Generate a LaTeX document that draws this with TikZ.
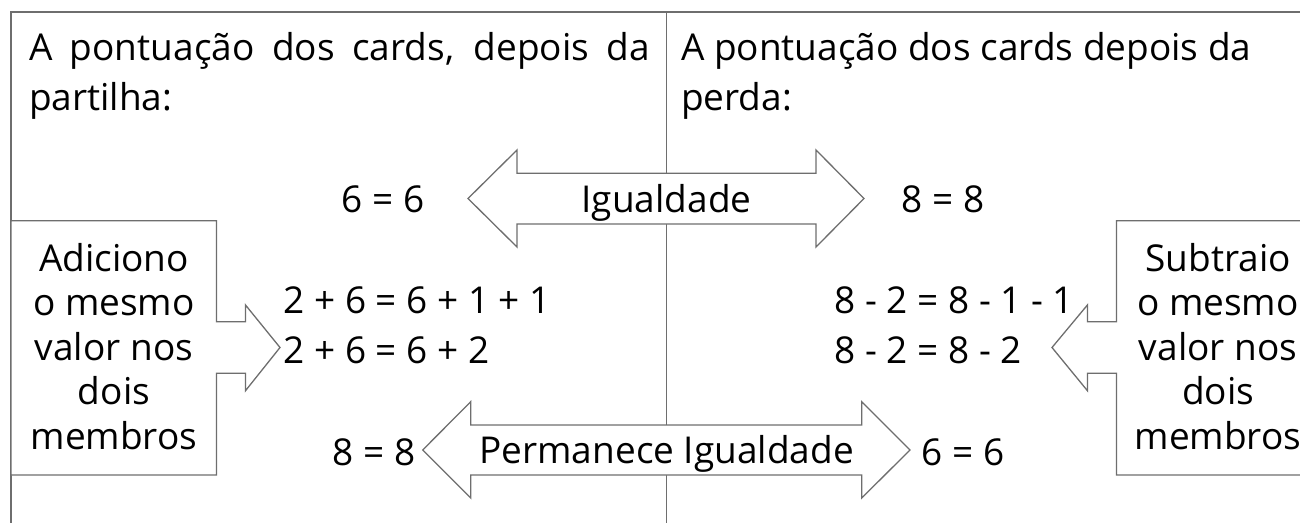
\documentclass[tikz,border=0pt]{standalone}
\usepackage{fontspec}
\setmainfont{Open Sans}
\definecolor{linegray}{RGB}{110,110,110}
\begin{document}
\begin{tikzpicture}[x=1pt,y=-1pt,
  frame/.style={draw=linegray, line width=1.3pt},
  blockshape/.style={draw=linegray, fill=white, line width=1.3pt, line join=miter},
  txt/.style={inner sep=0pt, outer sep=0pt, font=\fontsize{37}{44.4}\selectfont}]
\useasboundingbox (0,0) rectangle (1300,523);
% frame
\coordinate (tl) at (11,12);
\coordinate (tr) at (1300,12);
\coordinate (bl) at (11,523);
\coordinate (mt) at (666.7,12);
\coordinate (mb) at (666.7,523);
\draw[frame] (tr) -- (tl) -- (bl);
\draw[frame] (mt) -- (mb);
% double arrows
\draw[blockshape] (468,198.5) -- (517,150) -- (517,173.3) -- (816,173.3) -- (816,150) -- (864,198.5)
  -- (816,247) -- (816,224) -- (517,224) -- (517,247) -- cycle;
\draw[blockshape] (422.7,450) -- (470.7,401.7) -- (470.7,425) -- (861.7,425) -- (861.7,401.7) -- (910,450)
  -- (861.7,498) -- (861.7,475) -- (470.7,475) -- (470.7,498) -- cycle;
% left box with arrow
\draw[blockshape] (11,220.7) -- (216.5,220.7) -- (216.5,321.7) -- (245.5,321.7) -- (245.5,305) -- (280,347.5)
  -- (245.5,390.7) -- (245.5,373.3) -- (216.5,373.3) -- (216.5,475) -- (11,475) -- cycle;
% right box with arrow
\fill[white] (1300,220.7) -- (1116.4,220.7) -- (1116.4,475) -- (1300,475) -- cycle;
\draw[blockshape] (1300,220.7) -- (1116.4,220.7) -- (1116.4,321.7) -- (1087.4,321.7) -- (1087.4,305) -- (1052,347.5)
  -- (1087.4,390.7) -- (1087.4,373.3) -- (1116.4,373.3) -- (1116.4,475) -- (1300,475);
% titles
\node[txt, anchor=base west] (t1) at (29,60) {\makebox[621pt][s]{A pontuação dos cards, depois da}};
\node[txt, anchor=base west] (t1b) at (29,110) {partilha:};
\node[txt, anchor=base west] (t2) at (681,60) {A pontuação dos cards depois da};
\node[txt, anchor=base west] (t2b) at (681,110) {perda:};
% arrow labels
\node[txt, anchor=base] (ig) at (666.5,212) {Igualdade};
\node[txt, anchor=base] (pi) at (666.7,463.5) {Permanece Igualdade};
% equations
\node[txt, anchor=base west] (e6) at (341.5,212.5) {6 = 6};
\node[txt, anchor=base west] (e8) at (901.7,212.5) {8 = 8};
\node[txt, anchor=base west] (a1) at (283.5,313.3) {2 + 6 = 6 + 1 + 1};
\node[txt, anchor=base west] (a2) at (283.5,363.3) {2 + 6 = 6 + 2};
\node[txt, anchor=base west] (s1) at (834.5,313.3) {8 - 2 = 8 - 1 - 1};
\node[txt, anchor=base west] (s2) at (834.5,363.3) {8 - 2 = 8 - 2};
\node[txt, anchor=base west] (f8) at (332.6,465) {8 = 8};
\node[txt, anchor=base west] (f6) at (921.6,465) {6 = 6};
% box texts (base anchor = last line)
\node[txt, align=center, anchor=base] (add) at (114,449.1) {Adiciono\\o mesmo\\valor nos\\dois\\membros};
\node[txt, align=center, anchor=base] (sub) at (1218,449.1) {Subtraio\\o mesmo\\valor nos\\dois\\membros};
\end{tikzpicture}
\end{document}
